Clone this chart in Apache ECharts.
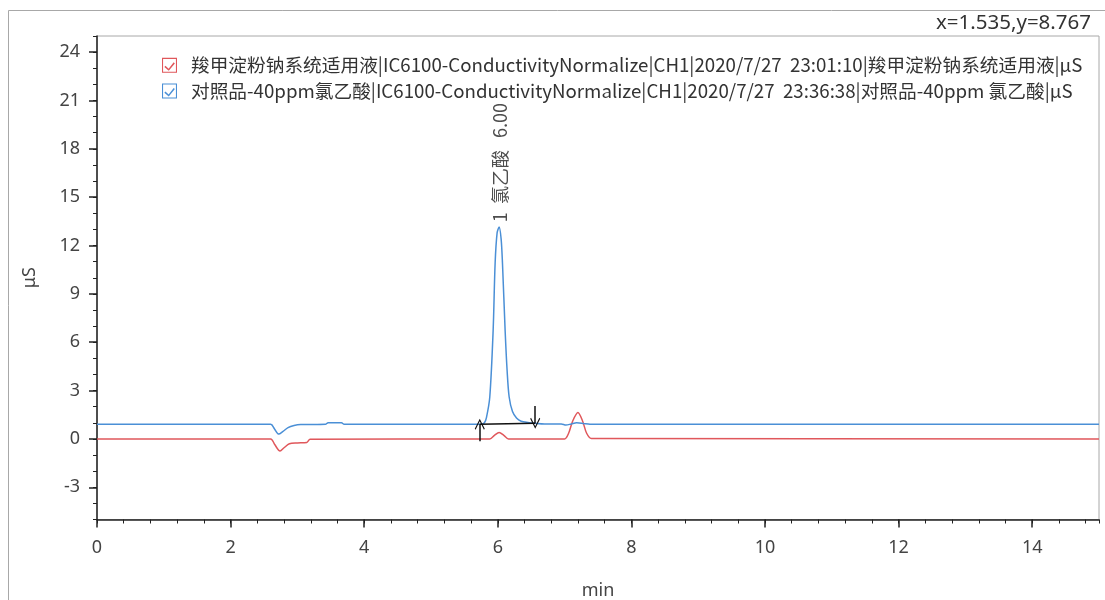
<!DOCTYPE html>
<html>
<head>
<meta charset="utf-8">
<script src="https://cdn.jsdelivr.net/npm/echarts@6/dist/echarts.min.js"></script>
<style>
  html, body { margin: 0; padding: 0; background: #fff; }
  #container { width: 1105px; height: 600px; }
</style>
</head>
<body>
<div id="container"></div>
<script>
// 色谱图：两条电导检测曲线
let redName = '羧甲淀粉钠系统适用液|IC6100-ConductivityNormalize|CH1|2020/7/27  23:01:10|羧甲淀粉钠系统适用液|μS';
let blueName = '对照品-40ppm氯乙酸|IC6100-ConductivityNormalize|CH1|2020/7/27  23:36:38|对照品-40ppm 氯乙酸|μS';

// 羧甲淀粉钠 (red) 时间/响应
let redX = [0, 2.6, 2.66, 2.74, 2.8, 2.88, 3.0, 3.14, 3.19, 5.88, 5.95, 6.02, 6.09, 6.16, 7.0, 7.06, 7.12, 7.2, 7.27, 7.33, 7.4, 15];
let redY = [0, 0, -0.35, -0.75, -0.55, -0.3, -0.25, -0.22, -0.02, 0, 0.22, 0.4, 0.22, 0, 0, 0.35, 1.1, 1.64, 1.1, 0.35, 0.03, 0];

// 对照品 (blue)
let blueX = [0, 2.6, 2.66, 2.72, 2.78, 2.86, 2.95, 3.05, 3.42, 3.46, 3.66, 3.7, 5.76, 5.8, 5.83, 5.88, 5.93, 5.96, 5.99, 6.02,
  6.05, 6.07, 6.11, 6.14, 6.17, 6.22, 6.28, 6.35, 6.45, 6.56, 6.7, 6.95, 7.02, 7.1, 7.18, 7.28, 7.38, 15];
let blueY = [0.91, 0.91, 0.6, 0.3, 0.45, 0.7, 0.83, 0.89, 0.91, 1.01, 1.01, 0.91, 0.91, 1.0, 1.32, 2.6, 6.7, 10.9, 12.8, 13.15,
  12.4, 10.9, 6.7, 4.2, 2.6, 1.7, 1.3, 1.1, 1.02, 0.97, 0.93, 0.93, 0.86, 0.93, 1.0, 0.96, 0.91, 0.91];

// 积分基线和箭头
let baseX = [5.73, 6.56];
let baseY = [0.91, 0.97];
let upArrow = [[5.73, -0.15], [5.73, 0.91]];
let downArrow = [[6.56, 2.05], [6.56, 0.97]];
let peakLabel = [6.03, 13.45];
let peakText = '1  氯乙酸   6.00';

// 刻度
let yLabels = [-3, 0, 3, 6, 9, 12, 15, 18, 21, 24];
let xLabels = [0, 2, 4, 6, 8, 10, 12, 14];

let cursorText = 'x=1.535,y=8.767';

let redColor = '#e0575b';
let blueColor = '#4a8fd6';
let checkIcon = 'path://M0,0L14,0L14,14L0,14Z M1,1L1,13L13,13L13,1Z M3.2,7.4L6.2,10.2L10.9,4.1L12,5.2L6.3,12L2.2,8.5Z';
let chevron = 'path://M0,0L6,10L5,11L0,2.5L-5,11L-6,10Z';

function zip(xs, ys) {
  return xs.map((x, i) => [x, ys[i]]);
}

let labelFont = 'Noto Sans';
let cjkFont = '"Noto Sans CJK SC", "Noto Sans", sans-serif';

var myChart = echarts.init(document.getElementById('container'));
var option = {
  animation: false,
  backgroundColor: '#fff',
  graphic: [
    {
      type: 'rect', z: -10, silent: true,
      shape: { x: 8.5, y: 10.5, width: 1120, height: 620 },
      style: { fill: 'none', stroke: '#a8a8a8', lineWidth: 1 }
    },
    {
      type: 'text', z: 10,
      style: {
        text: cursorText, x: 1091, y: 23, align: 'right', verticalAlign: 'middle',
        font: '20.5px "Noto Sans"', fill: '#333'
      }
    }
  ],
  grid: {
    left: 97, right: 6, top: 36, bottom: 80.5,
    outerBoundsMode: 'none',
    show: true, borderColor: '#a8a8a8', borderWidth: 1
  },
  legend: {
    orient: 'vertical',
    left: 157, top: 51,
    itemWidth: 15, itemHeight: 15,
    itemGap: 7,
    selectedMode: false,
    textStyle: { fontFamily: cjkFont, fontSize: 18.7, color: '#333', padding: [0, 0, 0, 9] },
    data: [
      { name: redName, icon: checkIcon, itemStyle: { color: redColor } },
      { name: blueName, icon: checkIcon, itemStyle: { color: blueColor } }
    ]
  },
  xAxis: [
    {
      type: 'value', min: 0, max: 15, interval: 0.4,
      name: 'min', nameLocation: 'middle', nameGap: 62,
      nameTextStyle: { fontFamily: labelFont, fontSize: 18, color: '#444' },
      axisLine: { onZero: false, lineStyle: { color: '#222', width: 1.5 } },
      axisTick: { length: 4, lineStyle: { color: '#222' } },
      axisLabel: { show: false },
      splitLine: { show: false }
    },
    {
      type: 'value', min: 0, max: 15, interval: 2, position: 'bottom',
      axisLine: { show: false, onZero: false },
      axisTick: { length: 8, customValues: xLabels, lineStyle: { color: '#222', width: 1.5 } },
      axisLabel: { customValues: xLabels, fontFamily: labelFont, fontSize: 18, color: '#444', margin: 19 },
      splitLine: { show: false }
    }
  ],
  yAxis: [
    {
      type: 'value', min: -5, max: 25, interval: 1,
      name: 'μS', nameLocation: 'middle', nameGap: 58,
      nameTextStyle: { fontFamily: labelFont, fontSize: 18, color: '#444' },
      axisLine: { show: true, onZero: false, lineStyle: { color: '#222', width: 1.5 } },
      axisTick: { show: true, length: 4, lineStyle: { color: '#222' } },
      axisLabel: { show: false },
      splitLine: { show: false }
    },
    {
      type: 'value', min: -5, max: 25, interval: 1, position: 'left', offset: 0,
      axisLine: { show: false, onZero: false },
      axisTick: { show: true, length: 8, customValues: yLabels, lineStyle: { color: '#222', width: 1.5 } },
      axisLabel: { customValues: yLabels, fontFamily: labelFont, fontSize: 18, color: '#444', margin: 17 },
      splitLine: { show: false }
    }
  ],
  series: [
    {
      name: redName, type: 'line', xAxisIndex: 0, yAxisIndex: 0,
      data: zip(redX, redY), showSymbol: false, smooth: 0.3,
      lineStyle: { color: redColor, width: 1.5 }, itemStyle: { color: redColor }
    },
    {
      name: blueName, type: 'line', xAxisIndex: 0, yAxisIndex: 0,
      data: zip(blueX, blueY), showSymbol: false, smooth: 0.3,
      lineStyle: { color: blueColor, width: 1.5 }, itemStyle: { color: blueColor }
    },
    {
      name: 'baseline', type: 'line', xAxisIndex: 0, yAxisIndex: 0,
      data: zip(baseX, baseY), showSymbol: false,
      lineStyle: { color: '#111', width: 1.5 },
      markLine: {
        silent: true, animation: false,
        lineStyle: { color: '#111', width: 1.5, type: 'solid' },
        label: { show: false },
        symbolSize: [10, 11],
        data: [
          [{ coord: upArrow[0], symbol: 'none' }, { coord: upArrow[1], symbol: chevron }],
          [{ coord: downArrow[0], symbol: 'none' }, { coord: downArrow[1], symbol: chevron }]
        ]
      }
    },
    {
      name: 'peak', type: 'scatter', xAxisIndex: 0, yAxisIndex: 0,
      data: [peakLabel], symbolSize: 0, silent: true,
      label: {
        show: true, position: [0, 0], rotate: 90, align: 'left', verticalAlign: 'middle',
        formatter: peakText, fontFamily: cjkFont, fontSize: 18, color: '#222'
      }
    }
  ]
};
myChart.setOption(option);
</script>
</body>
</html>
